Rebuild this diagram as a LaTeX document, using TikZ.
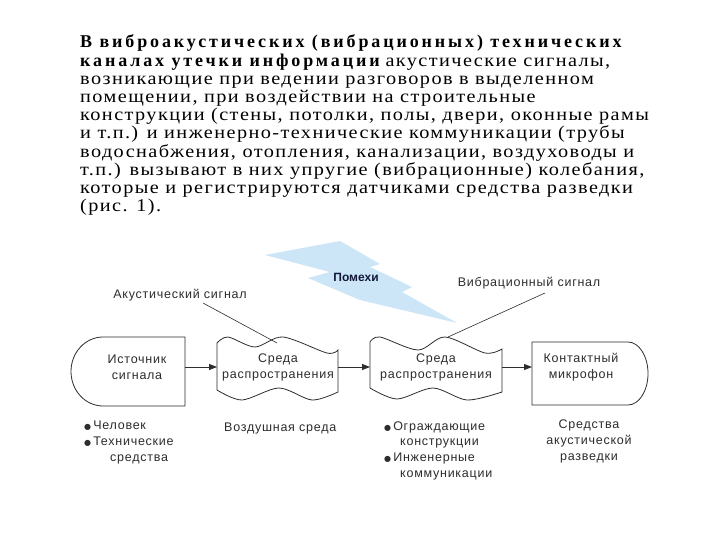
\documentclass[tikz,border=0pt]{standalone}
\usepackage{fontspec}
\setmainfont{Liberation Serif}[LetterSpace=7.0]
\newfontfamily\bodybf{Liberation Serif}[LetterSpace=16.0]
\newfontfamily\diafont{Liberation Sans}[LetterSpace=6.0]
\newfontfamily\bulfont{DejaVu Sans}
\usetikzlibrary{arrows.meta}
\definecolor{boltblue}{RGB}{204,230,247}
\definecolor{ink}{RGB}{45,45,45}
\definecolor{navy}{RGB}{20,25,60}
\newcommand{\blt}{{\bulfont\fontsize{8}{8}\selectfont ●}\,}
\newcommand{\bbf}[1]{{\bodybf\bfseries #1}}
\newcommand{\wide}[1]{\scalebox{1.126}[1]{#1}}
\tikzset{
 bodyline/.style={anchor=base west, inner sep=0pt, font=\rmfamily\fontsize{18}{18}\selectfont, text=black},
 dlabel/.style={inner sep=0pt, font=\diafont\fontsize{12.5}{16}\selectfont, text=ink, align=center},
 dline/.style={anchor=base west, inner sep=0pt, font=\diafont\fontsize{12.5}{16}\selectfont, text=ink},
 shapeline/.style={draw=ink, line width=0.8pt, fill=white},
 conn/.style={draw=ink, line width=0.8pt, -{Triangle[length=8pt,width=6pt]}},
 pointer/.style={draw=ink, line width=0.6pt},
}
\begin{document}
\begin{tikzpicture}[x=1pt,y=-1pt]
\useasboundingbox[fill=white] (0,0) rectangle (720,540);

% ---- text block ----
\node[bodyline] (l1) at (80,48) {\bbf{В виброакустических (вибрационных) технических}};
\node[bodyline] (l2) at (80,66.2) {\bbf{каналах утечки информации} \wide{акустические сигналы,}};
\node[bodyline] (l3) at (80,84.4) {\wide{возникающие при ведении разговоров в выделенном}};
\node[bodyline] (l4) at (80,102.6) {\wide{помещении, при воздействии на строительные}};
\node[bodyline] (l5) at (80,120.8) {\wide{конструкции (стены, потолки, полы, двери, оконные рамы}};
\node[bodyline] (l6) at (80,139) {\wide{и т.п.) и инженерно-технические коммуникации (трубы}};
\node[bodyline] (l7) at (80,157.2) {\wide{водоснабжения, отопления, канализации, воздуховоды и}};
\node[bodyline] (l8) at (80,175.4) {\wide{т.п.) вызывают в них упругие (вибрационные) колебания,}};
\node[bodyline] (l9) at (80,193.6) {\wide{которые и регистрируются датчиками средства разведки}};
\node[bodyline] (l10) at (80,211.8) {\wide{(рис. 1).}};

% ---- lightning ----
\fill[boltblue] (265,255) -- (340,241) -- (380,264) -- (370,267) -- (412,287) -- (402,292)
  -- (457,323) -- (360,300) -- (308,278) -- (330,272) -- cycle;
\node[inner sep=0pt, font=\fontspec{Liberation Sans}\bfseries\fontsize{12}{14}\selectfont, text=navy] (pom) at (356,277) {Помехи};

% ---- labels ----
\node[dlabel] (ac) at (180,295) {Акустический сигнал};
\node[dlabel] (vib) at (529,283) {Вибрационный сигнал};

% ---- shapes ----
\path[shapeline] (185,337) -- (103,337) arc[start angle=-90, end angle=-270, x radius=32, y radius=34.5] -- (185,406) -- cycle;
\path[shapeline] plot[smooth] coordinates {(217,343) (228,337) (255,347) (283,337) (327,353) (338,350)}
  -- plot[smooth] coordinates {(338,392) (312,400) (279,388) (242,400) (217,390)} -- cycle;
\path[shapeline] plot[smooth] coordinates {(370,342) (380,337) (418,350) (445,337) (485,353) (502,349)}
  -- plot[smooth] coordinates {(502,392) (467,400) (433,388) (397,399) (370,388)} -- cycle;
\path[shapeline] (532,342) -- (628,342) arc[start angle=-90, end angle=90, x radius=20, y radius=31.5] -- (532,405) -- cycle;

\coordinate (srcE) at (185,367);
\coordinate (b1W) at (217,367);
\coordinate (b1E) at (338,367);
\coordinate (b2W) at (370,367);
\coordinate (b2E) at (502,367);
\coordinate (micW) at (532,367);
\coordinate (acP) at (203,303);
\coordinate (b1Top) at (277,343);
\coordinate (vibP) at (545,293);
\coordinate (b2Top) at (448,337);

\draw[pointer] (acP) -- (b1Top);
\draw[pointer] (vibP) -- (b2Top);
\draw[conn] (srcE) -- (b1W);
\draw[conn] (b1E) -- (b2W);
\draw[conn] (b2E) -- (micW);

\node[dlabel] (srcT) at (137,367) {Источник\\сигнала};
\node[dlabel] (b1Tx) at (278,367) {Среда\\распространения};
\node[dlabel] (b2Tx) at (436,367) {Среда\\распространения};
\node[dlabel] (micT) at (581,367) {Контактный\\микрофон};

% ---- bottom captions ----
\node[dline] (c1a) at (84,429.5) {\blt Человек};
\node[dline] (c1b) at (84,445.5) {\blt Технические};
\node[dline] (c1c) at (110,461.5) {средства};
\node[dline] (c2) at (224,431.5) {Воздушная среда};
\node[dline] (c3a) at (384,430.5) {\blt Ограждающие};
\node[dline] (c3b) at (400,445.5) {конструкции};
\node[dline] (c3c) at (384,461.5) {\blt Инженерные};
\node[dline] (c3d) at (400,477) {коммуникации};
\node[dlabel] (c4) at (589,441) {Средства\\акустической\\разведки};
\end{tikzpicture}
\end{document}
